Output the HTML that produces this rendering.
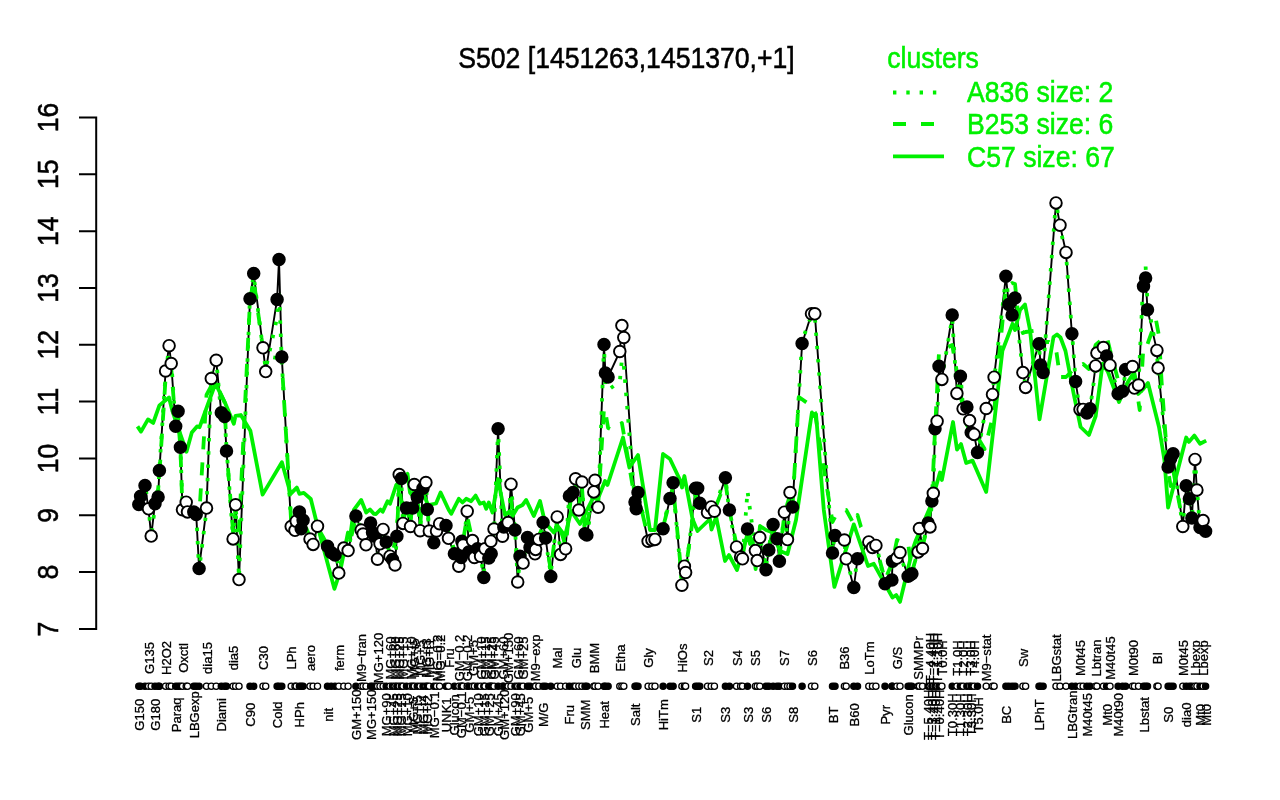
<!DOCTYPE html>
<html lang="en"><head><meta charset="utf-8"><title>S502 [1451263,1451370,+1]</title>
<style>html,body{margin:0;padding:0;background:#fff;}body{width:1280px;height:800px;overflow:hidden;}svg{display:block;font-family:"Liberation Sans",sans-serif;}.big{font-size:26.6px;}.bk{stroke:#000;stroke-width:0.5;}.lab{font-size:13.05px;text-anchor:middle;stroke:#000;stroke-width:0.3;}.g{fill:none;stroke:#00f000;stroke-width:3.8;stroke-linejoin:round;}.k{fill:none;stroke:#000;stroke-width:1.9;stroke-linejoin:round;}.po{fill:#fff;stroke:#000;stroke-width:1.9;}.pf{fill:#000;stroke:#000;stroke-width:1.9;}.ro{fill:#fff;stroke:#000;stroke-width:1.3;}.rf{fill:#000;stroke:#000;stroke-width:1.3;}</style></head><body>
<svg width="1280" height="800" viewBox="0 0 1280 800">
<rect width="1280" height="800" fill="#fff"/>
<text class="big bk" transform="translate(626.5 68.3) scale(1 1.1)" text-anchor="middle">S502 [1451263,1451370,+1]</text>
<g fill="#00f000" stroke="#00f000" stroke-width="0.5" class="big">
<text transform="translate(887.3 67.8) scale(1 1.1)">clusters</text>
<text transform="translate(967 102.4) scale(1 1.1)">A836 size: 2</text>
<text transform="translate(967 134.3) scale(1 1.1)">B253 size: 6</text>
<text transform="translate(967 167) scale(1 1.1)">C57 size: 67</text>
</g>
<path class="g" stroke-dasharray="3.4 9.9" d="M893 92.5H944"/>
<path class="g" stroke-dasharray="13 15" d="M893 124H944"/>
<path class="g" d="M893 156.3H944"/>
<path d="M96.2 117.5V629M80 117.5H96.2M80 174.3H96.2M80 231.2H96.2M80 288H96.2M80 344.8H96.2M80 401.6H96.2M80 458.5H96.2M80 515.3H96.2M80 572.1H96.2M80 629H96.2" fill="none" stroke="#000" stroke-width="2" stroke-linecap="square"/>
<g class="big bk" text-anchor="middle">
<text transform="translate(57.9 117.5) rotate(-90) scale(1 1.1)">16</text>
<text transform="translate(57.9 174.3) rotate(-90) scale(1 1.1)">15</text>
<text transform="translate(57.9 231.2) rotate(-90) scale(1 1.1)">14</text>
<text transform="translate(57.9 288) rotate(-90) scale(1 1.1)">13</text>
<text transform="translate(57.9 344.8) rotate(-90) scale(1 1.1)">12</text>
<text transform="translate(57.9 401.6) rotate(-90) scale(1 1.1)">11</text>
<text transform="translate(57.9 458.5) rotate(-90) scale(1 1.1)">10</text>
<text transform="translate(57.9 515.3) rotate(-90) scale(1 1.1)">9</text>
<text transform="translate(57.9 572.1) rotate(-90) scale(1 1.1)">8</text>
<text transform="translate(57.9 629) rotate(-90) scale(1 1.1)">7</text>
</g>
<path class="k" d="M138.8 504.4L140.6 496.3L145 485.6L148.5 508.8L151.2 536.1L155 503.8L158.1 496.9L159.4 470.6L165.6 371L169.1 345.7L171.2 363.5L175.7 426.3L178.1 411.3L180.4 447.3L182.5 509.8L186.2 502.2L187.5 511.9L193.8 511.9L196.2 514.4L199.1 568.4L206.5 508.1L211.3 378.5L216.2 360.3L221.3 412.8L224.6 416.5L226.5 451L233.1 538.9L235.6 504.8L239 579.6L250 298.8L253.7 273.5L263 347.8L265.7 371.6L277.1 299.4L279 259.6L281.8 357.1L291.2 526.5L295 530.3L296.2 521.2L299.4 512L301.2 528.8L303.1 520.3L310 539L313.1 544.4L317.5 526.2L327.5 546.2L331.2 552.5L335 555L338.8 573.1L343.8 548.1L348.1 550.6L355.9 516L361.2 530L363.1 534L366 544.8L370.6 523.1L372.5 532.5L375 536.2L377.5 559.2L380 543.8L383.1 529.4L386.2 541.9L390 556.2L392.5 559.4L395 565L396.9 536.2L399.2 474.5L401.4 478.4L403 523.4L406.5 508L410.5 526.5L412.6 508L414.3 484.5L417.3 497.2L420.1 530.7L423 488.3L425.9 482.5L427.3 509.5L429.3 531L433.8 542.8L436.5 531L439.6 523.7L446 525.4L448.5 538.3L454.4 553.8L458.8 566.2L461.2 557.5L461.9 541.2L463.1 545L467.2 511.2L468.8 551.9L472.5 540.6L474.4 557.5L477.5 548.8L480.6 556.2L483.8 577.5L485 548.8L488.8 558.1L490.9 541.2L491.2 553.8L494 529L498.1 428.8L502.5 536.2L503.8 526.9L508.1 522.5L511 484.2L515 530L517.7 582L520 556.2L523.1 563.1L527.5 537.5L530 547.5L535 553.8L535.6 549.4L538.8 539.4L543.1 522.5L545.6 538.1L550.8 576.4L557.2 516.9L560.6 554.4L565.6 548.8L569.4 496L573.1 492.5L575.6 478.8L578.8 510L581.9 482L585 533.8L586.9 535L593.8 491.9L595 480.3L598.1 507.2L604 344.6L605.4 373.1L608.1 376.9L619.8 351.5L621.9 325.6L623.8 337.5L635 501.9L636.2 508.8L638 492.5L648.1 541.2L651.9 540L655 539.4L663.1 528.8L670 498.5L673.1 482.8L681.9 585.2L684.4 566.2L685.6 572.5L695.6 488.3L697.7 488.3L699.8 503.2L707.5 512.5L711.2 506.9L714.4 511.2L725.4 477.8L729.4 510L736.5 546.9L740.6 556.9L742.5 558.8L747.5 529L755.4 550.6L757.2 560.6L759.8 537.5L766 569.8L768.8 550L773.1 524.4L777 538.8L779.4 561.2L784.4 512.2L787.5 539.6L790 492.5L792.5 506.9L802.1 343.5L811.5 313.8L814.8 313.8L832.5 553.1L835 535.6L844.4 540L846.2 558.8L853.8 587.5L857.5 558.8L868.8 541.9L872.5 547.5L875.9 545.4L885 583.8L891.9 580L892.5 561.2L896.9 558.1L900 552.5L908.1 576.2L910 575L911.9 573.8L918.1 551.9L919.4 528.5L922.5 548.5L928.1 523.1L930 526.9L931.9 500.9L933.3 493.3L935 428.8L937.1 421.2L939 366.2L941.9 379.4L952.2 315L956.9 393.4L960.4 376.2L963.1 408.8L966.9 406.9L969.6 420.6L971.2 432.5L974.1 434.4L977.5 452.5L986.2 408.5L992.5 394.4L994.1 377.2L1005.9 276.2L1008.8 304.4L1012.1 315L1015 298.1L1022.9 372.6L1025.6 387.4L1039 343.8L1040.6 365L1043.1 372.5L1056 202.9L1060 225.2L1066 252.4L1071.9 333.8L1075.6 381.6L1080 409.4L1083.1 409.4L1086.9 413.1L1090 408.8L1095.6 365.9L1096.9 353.1L1103.4 347.5L1106.6 356L1110 365.2L1118.1 393.8L1122.5 391.2L1125.6 369.4L1132.5 366.5L1134.4 388.1L1138.5 385L1143.5 286.2L1145.6 278.1L1147.5 309.8L1156.9 350.4L1158.1 368.1L1168.1 466.9L1170.6 458.8L1173.1 453.8L1182.8 526.5L1186.2 485.8L1189.4 498.8L1191.9 518L1195 459.4L1196.9 490L1200 527.5L1203.1 520.6L1205.6 531.2"/>
<path class="g" d="M137.5 426.4L141 431.6L148 419.4L153.2 422.9L159.4 405.4L169 397.5L172.5 411.5L186.5 451.8L191.8 432.5L197 426.4L199.6 427.2L215.4 383.5L225 402.8L233.8 423.8L235.5 415.9L240.8 415L250.4 430.8L262.6 494.6L281.9 462.2L290.6 493.8L296.8 487.6L299.4 493.8L303.8 492.9L310.8 499L316 520L334.4 588.8L340 572L348 532.5L350 537.5L353.8 510L361.2 500L366.2 512.5L370 509.4L373.8 513.8L376 514L380.5 509.5L382.7 511.8L387.5 501.2L390 503.8L396.2 485L401 480L407.5 473.8L410 492.5L416 500L422 490L428 505L436 503.5L440.6 492.5L448.8 510L451.2 513.8L458.8 498.8L462.5 502.5L466.2 498.8L471.2 501.2L475.6 495.6L480 503.8L483.8 502.5L486.2 508.8L488.8 502.5L492.5 512.5L498 479L505 515L510 511L512.5 516L517.5 507.5L522.5 505L526.2 500L533.8 516L540 501L545 522.5L553.8 532.5L557.5 526L565 536L571.2 511L580 524L587.5 509L592.5 499L599 496L605 481L607.5 485L623 437.5L629.4 467.5L638 455L650 530L655 530L663 454L670 459L680 480L682 487.5L684.4 476L692.5 519L697.5 531L710 519L711.5 529.5L716.2 517L725 561L729 555L737 570L747.5 534L750 544L752.5 540L755.6 569L760 526L766 530L772.5 532.5L780 551L787.5 554L796 520L811.9 412.5L814 416L816 414L823.8 510L834.4 586.9L853.8 524.4L868 566L873.8 563.8L892.5 597.5L896.2 595L900 601.9L912.5 550L916 540L930 507.5L940 472.5L941.9 480L953 422L957 449.6L961 444L966.2 463L972.5 460.6L986.2 491.9L1002.4 350.7L1007.5 337.5L1012.5 323.8L1015 330L1020 310L1025 304.5L1030 330L1039.5 419.4L1053.5 337L1057 334.5L1060.5 337.5L1065.5 351L1073.7 394L1080.6 427L1088.9 435L1095.7 416L1102.6 363.7L1108 372L1119 402L1127.3 383L1134.2 372L1138.3 394L1142.4 390L1148 383L1159 427L1164.4 460L1168.1 507.5L1186.2 437.5L1188.8 441.9L1194.4 435.6L1200 443.8L1206.2 440.6"/>
<path class="g" stroke-dasharray="13 13" d="M138.8 505L140.6 500L145 492L148.5 498L151.2 497L155 495L158.1 490L159.4 474L165.6 378L169.1 352L171.2 368L175.7 425L178.1 420L180.4 447L182.5 512L186.2 505L187.5 512L193.8 512L196.2 514L199.1 518L206.5 395L211.3 386L216.2 384L221.3 395L224.6 402L226.5 450L233.1 532L235.6 510L239 530L250 301L253.7 280L263 349L265.7 356L277.1 358L279 358L281.8 362L291.2 522L295 528L296.2 521L299.4 514L303.1 521L310 537L317.5 527L327.5 545L335 553L338.8 565L343.8 547L348.1 549L355.9 518L361.2 529L366 540L370.6 524L375 535L380 542L386.2 540L392.5 552L396.9 536L399.2 482L403 520L406.5 508L410.5 522L414.3 488L417.3 497L420.1 527L423 490L427.3 508L429.3 528L433.8 540L439.6 524L446 526L454.4 550L461.2 552L467.2 516L472.5 541L480.6 552L483.8 565L490.9 542L494 530L498.1 520L503.8 527L511 500L515 530L517.7 570L523.1 558L527.5 538L535 550L543.1 524L550.8 570L557.2 519L565.6 546L571 497L575.6 482L578.8 508L581.9 486L585 532L593.8 492L598.1 506L604 408L605.4 412L608.1 428L612.5 430L619.8 425L621.9 423L623.8 434L635 500L638 494L648.1 538L655 537L663.1 527L670 500L673.1 486L681.9 580L685.6 570L696.9 490L700 503L707.5 512L714.4 510L725.4 482L729.4 510L736.5 545L742.5 556L747.5 530L755.4 549L759.8 538L766 566L773.1 527L779.4 558L784.4 514L790 495L792.5 506L798.8 397L811.5 406L814.8 412L832.5 522L835 517L844.4 510L846.2 510L853.8 524L857.5 515L861 527L868.8 541L875.9 546L885 580L892.5 562L896.9 540L900 541L908.1 543L911.9 572L918.1 551L922.5 547L928.1 523L931.9 500L935 430L937.1 390L939 352L941.9 350L952.2 345L956.9 372L960.4 395L966.9 425L971.2 432L977.5 437L984.6 449L994.1 412L999.7 350L1005.9 287L1012.1 283L1015 284L1019 323L1022.9 333L1025.6 332L1039 330L1041 342L1049 342L1056 349L1060 377L1066 377L1071.9 371L1075.6 368L1083.1 364L1088.9 369L1095.6 345L1103.4 338L1106.6 336L1110 350L1118.1 380L1125.6 372L1132.5 362L1139.7 410L1143.5 345L1147.5 344L1156 320L1159 336L1161.7 383L1168.1 470L1170.6 486L1173.1 470L1182.8 522"/>
<path class="g" stroke-dasharray="3.4 9.9" d="M138.8 504.4L140.6 499.3L145 484.8L148.5 506L151.2 537.6L155 506.1L158.1 494.8L159.4 468.7L165.6 373.6L169.1 346.9L171.2 360.6L175.7 425.9L178.1 414.3L180.4 447L182.5 506.8L186.2 503.3L187.5 514.5L193.8 510.1L196.2 512.2L199.1 570.7L206.5 509.7L211.3 375.8L216.2 359.4L221.3 415.8L224.6 416.6L226.5 448L233.1 539.5L235.6 507.6L239 578.2L250 296.3L253.7 275.5L263 349.7L265.7 369.1L277.1 317.4L279 289.6L281.8 362.1L291.2 523.5L295 530.5L296.2 524.2L299.4 511L301.2 526.1L303.1 522L310 541.3L313.1 542.2L317.5 524.6L327.5 548.9L331.2 553.5L335 552.1L338.8 572.9L343.8 551.1L348.1 550.1L355.9 513.1L361.2 531.3L363.1 536.5L366 542.8L370.6 521.1L372.5 534.9L375 537.7L377.5 556.4L380 543.1L383.1 532.4L386.2 541.8L390 553.3L392.5 560.2L395 567.7L396.9 534.7L399.2 472.2L401.4 480.6L403 525.2L406.5 505.4L410.5 525.4L412.6 510.9L414.3 484.9L417.3 494.2L420.1 531.1L423 491.2L425.9 481.3L427.3 506.9L429.3 532.8L433.8 544.9L436.5 528.6L439.6 522.2L446 528.2L448.5 539.1L454.4 550.8L458.8 566.2L461.2 560.5L461.9 540.5L463.1 542.2L467.2 512.7L468.8 554.3L472.5 538.5L474.4 555.6L477.5 551.3L480.6 557.5L483.8 574.6L485 548.3L488.8 561.1L490.9 541L491.2 550.8L494 530L498.1 428.8L502.5 534.5L503.8 524.7L508.1 524.8L511 485.8L515 527.3L517.7 581.1L520 559.2L523.1 563.3L527.5 534.5L530 548.1L535 556.6L535.6 548.1L538.8 536.9L543.1 524.5L545.6 540.1L550.8 573.9L557.2 515.6L560.6 557.2L565.6 549.4L569.4 493L573.1 492.7L575.6 481.7L578.8 509.1L581.9 479.3L585 535.4L586.9 537.3L593.8 489.7L595 478.6L598.1 509.9L604 344.6L605.4 385.1L608.1 389.9L619.8 381.5L621.9 359.6L623.8 365.5L635 503.1L636.2 511.3L638 490.6L648.1 539.2L651.9 542.4L655 540.8L663.1 526L670 497.8L673.1 485.8L681.9 585.2L684.4 563.3L685.6 573.3L695.6 491.1L697.7 486.8L699.8 500.8L707.5 514.6L711.2 508.7L714.4 508.7L725.4 476.6L729.4 512.9L736.5 547.3L740.6 553.9L742.5 559.1L747.5 491L755.4 549.5L757.2 558L759.8 539.3L766 571.9L768.8 547.7L773.1 522.8L777 541.5L779.4 562.1L784.4 509.3L787.5 539.5L790 495.5L792.5 506.2L802.1 340.7L811.5 315.2L814.8 316.2L832.5 551.1L835 533.7L844.4 542.5L846.2 560L853.8 584.6L857.5 558.2L868.8 544.9L872.5 547.3L875.9 542.5L885 584.8L891.9 582.7L892.5 559.6L896.9 555.9L900 554.8L908.1 577.9L910 572.3L911.9 572.8L918.1 554.8L919.4 528.7L922.5 545.5L928.1 523.7L930 529.7L931.9 499.6L933.3 490.8L935 430.7L937.1 423.3L939 363.8L941.9 378L952.2 317.8L956.9 394L960.4 373.3L963.1 408.9L966.9 409.9L969.6 419.7L971.2 429.8L974.1 436L977.5 454.8L986.2 406.3L992.5 392.6L994.1 379.9L1005.9 277.3L1008.8 301.5L1012.1 314.7L1015 301.1L1022.9 372.2L1025.6 384.5L1039 344.9L1040.6 367.6L1043.1 370.6L1056 200.8L1060 227.6L1066 253.9L1071.9 331L1075.6 380.8L1080 412.4L1083.1 409.4L1086.9 410.1L1090 409.5L1095.6 368.7L1096.9 351.6L1103.4 345.1L1106.6 358.1L1110 367.1L1118.1 391.2L1122.5 390.1L1125.6 372.3L1132.5 366.9L1134.4 385.1L1138.5 385.3L1143.5 274.2L1145.6 266.1L1147.5 301.8L1156.9 352.2L1158.1 370.3L1168.1 464.6L1170.6 457.2L1173.1 456.5L1182.8 527.4L1186.2 482.8L1189.4 498.6L1191.9 521L1195 458.7L1196.9 487.2L1200 528.9L1203.1 523.1L1205.6 529.2"/>
<circle class="pf" cx="138.8" cy="504.4" r="5.8"/>
<circle class="pf" cx="140.6" cy="496.3" r="5.8"/>
<circle class="pf" cx="145" cy="485.6" r="5.8"/>
<circle class="po" cx="148.5" cy="508.8" r="5.8"/>
<circle class="po" cx="151.2" cy="536.1" r="5.8"/>
<circle class="pf" cx="155" cy="503.8" r="5.8"/>
<circle class="pf" cx="158.1" cy="496.9" r="5.8"/>
<circle class="pf" cx="159.4" cy="470.6" r="5.8"/>
<circle class="po" cx="165.6" cy="371" r="5.8"/>
<circle class="po" cx="169.1" cy="345.7" r="5.8"/>
<circle class="po" cx="171.2" cy="363.5" r="5.8"/>
<circle class="pf" cx="175.7" cy="426.3" r="5.8"/>
<circle class="pf" cx="178.1" cy="411.3" r="5.8"/>
<circle class="pf" cx="180.4" cy="447.3" r="5.8"/>
<circle class="po" cx="182.5" cy="509.8" r="5.8"/>
<circle class="po" cx="186.2" cy="502.2" r="5.8"/>
<circle class="po" cx="187.5" cy="511.9" r="5.8"/>
<circle class="pf" cx="193.8" cy="511.9" r="5.8"/>
<circle class="pf" cx="196.2" cy="514.4" r="5.8"/>
<circle class="pf" cx="199.1" cy="568.4" r="5.8"/>
<circle class="po" cx="206.5" cy="508.1" r="5.8"/>
<circle class="po" cx="211.3" cy="378.5" r="5.8"/>
<circle class="po" cx="216.2" cy="360.3" r="5.8"/>
<circle class="pf" cx="221.3" cy="412.8" r="5.8"/>
<circle class="pf" cx="224.6" cy="416.5" r="5.8"/>
<circle class="pf" cx="226.5" cy="451" r="5.8"/>
<circle class="po" cx="233.1" cy="538.9" r="5.8"/>
<circle class="po" cx="235.6" cy="504.8" r="5.8"/>
<circle class="po" cx="239" cy="579.6" r="5.8"/>
<circle class="pf" cx="250" cy="298.8" r="5.8"/>
<circle class="pf" cx="253.7" cy="273.5" r="5.8"/>
<circle class="po" cx="263" cy="347.8" r="5.8"/>
<circle class="po" cx="265.7" cy="371.6" r="5.8"/>
<circle class="pf" cx="277.1" cy="299.4" r="5.8"/>
<circle class="pf" cx="279" cy="259.6" r="5.8"/>
<circle class="pf" cx="281.8" cy="357.1" r="5.8"/>
<circle class="po" cx="291.2" cy="526.5" r="5.8"/>
<circle class="po" cx="295" cy="530.3" r="5.8"/>
<circle class="po" cx="296.2" cy="521.2" r="5.8"/>
<circle class="pf" cx="299.4" cy="512" r="5.8"/>
<circle class="pf" cx="301.2" cy="528.8" r="5.8"/>
<circle class="pf" cx="303.1" cy="520.3" r="5.8"/>
<circle class="po" cx="310" cy="539" r="5.8"/>
<circle class="po" cx="313.1" cy="544.4" r="5.8"/>
<circle class="po" cx="317.5" cy="526.2" r="5.8"/>
<circle class="pf" cx="327.5" cy="546.2" r="5.8"/>
<circle class="pf" cx="331.2" cy="552.5" r="5.8"/>
<circle class="pf" cx="335" cy="555" r="5.8"/>
<circle class="po" cx="338.8" cy="573.1" r="5.8"/>
<circle class="po" cx="343.8" cy="548.1" r="5.8"/>
<circle class="po" cx="348.1" cy="550.6" r="5.8"/>
<circle class="pf" cx="355.9" cy="516" r="5.8"/>
<circle class="po" cx="361.2" cy="530" r="5.8"/>
<circle class="po" cx="363.1" cy="534" r="5.8"/>
<circle class="po" cx="366" cy="544.8" r="5.8"/>
<circle class="pf" cx="370.6" cy="523.1" r="5.8"/>
<circle class="pf" cx="372.5" cy="532.5" r="5.8"/>
<circle class="pf" cx="375" cy="536.2" r="5.8"/>
<circle class="po" cx="377.5" cy="559.2" r="5.8"/>
<circle class="po" cx="380" cy="543.8" r="5.8"/>
<circle class="po" cx="383.1" cy="529.4" r="5.8"/>
<circle class="pf" cx="386.2" cy="541.9" r="5.8"/>
<circle class="po" cx="390" cy="556.2" r="5.8"/>
<circle class="pf" cx="392.5" cy="559.4" r="5.8"/>
<circle class="po" cx="395" cy="565" r="5.8"/>
<circle class="pf" cx="396.9" cy="536.2" r="5.8"/>
<circle class="po" cx="399.2" cy="474.5" r="5.8"/>
<circle class="pf" cx="401.4" cy="478.4" r="5.8"/>
<circle class="po" cx="403" cy="523.4" r="5.8"/>
<circle class="pf" cx="406.5" cy="508" r="5.8"/>
<circle class="po" cx="410.5" cy="526.5" r="5.8"/>
<circle class="pf" cx="412.6" cy="508" r="5.8"/>
<circle class="po" cx="414.3" cy="484.5" r="5.8"/>
<circle class="pf" cx="417.3" cy="497.2" r="5.8"/>
<circle class="po" cx="420.1" cy="530.7" r="5.8"/>
<circle class="pf" cx="423" cy="488.3" r="5.8"/>
<circle class="po" cx="425.9" cy="482.5" r="5.8"/>
<circle class="pf" cx="427.3" cy="509.5" r="5.8"/>
<circle class="po" cx="429.3" cy="531" r="5.8"/>
<circle class="pf" cx="433.8" cy="542.8" r="5.8"/>
<circle class="po" cx="436.5" cy="531" r="5.8"/>
<circle class="po" cx="439.6" cy="523.7" r="5.8"/>
<circle class="pf" cx="446" cy="525.4" r="5.8"/>
<circle class="po" cx="448.5" cy="538.3" r="5.8"/>
<circle class="pf" cx="454.4" cy="553.8" r="5.8"/>
<circle class="po" cx="458.8" cy="566.2" r="5.8"/>
<circle class="pf" cx="461.2" cy="557.5" r="5.8"/>
<circle class="pf" cx="461.9" cy="541.2" r="5.8"/>
<circle class="po" cx="463.1" cy="545" r="5.8"/>
<circle class="po" cx="467.2" cy="511.2" r="5.8"/>
<circle class="pf" cx="468.8" cy="551.9" r="5.8"/>
<circle class="po" cx="472.5" cy="540.6" r="5.8"/>
<circle class="po" cx="474.4" cy="557.5" r="5.8"/>
<circle class="pf" cx="477.5" cy="548.8" r="5.8"/>
<circle class="po" cx="480.6" cy="556.2" r="5.8"/>
<circle class="pf" cx="483.8" cy="577.5" r="5.8"/>
<circle class="po" cx="485" cy="548.8" r="5.8"/>
<circle class="pf" cx="488.8" cy="558.1" r="5.8"/>
<circle class="po" cx="490.9" cy="541.2" r="5.8"/>
<circle class="pf" cx="491.2" cy="553.8" r="5.8"/>
<circle class="po" cx="494" cy="529" r="5.8"/>
<circle class="pf" cx="498.1" cy="428.8" r="5.8"/>
<circle class="po" cx="502.5" cy="536.2" r="5.8"/>
<circle class="pf" cx="503.8" cy="526.9" r="5.8"/>
<circle class="po" cx="508.1" cy="522.5" r="5.8"/>
<circle class="po" cx="511" cy="484.2" r="5.8"/>
<circle class="pf" cx="515" cy="530" r="5.8"/>
<circle class="po" cx="517.7" cy="582" r="5.8"/>
<circle class="pf" cx="520" cy="556.2" r="5.8"/>
<circle class="po" cx="523.1" cy="563.1" r="5.8"/>
<circle class="pf" cx="527.5" cy="537.5" r="5.8"/>
<circle class="pf" cx="530" cy="547.5" r="5.8"/>
<circle class="po" cx="535" cy="553.8" r="5.8"/>
<circle class="po" cx="535.6" cy="549.4" r="5.8"/>
<circle class="po" cx="538.8" cy="539.4" r="5.8"/>
<circle class="pf" cx="543.1" cy="522.5" r="5.8"/>
<circle class="pf" cx="545.6" cy="538.1" r="5.8"/>
<circle class="pf" cx="550.8" cy="576.4" r="5.8"/>
<circle class="po" cx="557.2" cy="516.9" r="5.8"/>
<circle class="po" cx="560.6" cy="554.4" r="5.8"/>
<circle class="po" cx="565.6" cy="548.8" r="5.8"/>
<circle class="pf" cx="569.4" cy="496" r="5.8"/>
<circle class="pf" cx="573.1" cy="492.5" r="5.8"/>
<circle class="po" cx="575.6" cy="478.8" r="5.8"/>
<circle class="po" cx="578.8" cy="510" r="5.8"/>
<circle class="po" cx="581.9" cy="482" r="5.8"/>
<circle class="pf" cx="585" cy="533.8" r="5.8"/>
<circle class="pf" cx="586.9" cy="535" r="5.8"/>
<circle class="po" cx="593.8" cy="491.9" r="5.8"/>
<circle class="po" cx="595" cy="480.3" r="5.8"/>
<circle class="po" cx="598.1" cy="507.2" r="5.8"/>
<circle class="pf" cx="604" cy="344.6" r="5.8"/>
<circle class="pf" cx="605.4" cy="373.1" r="5.8"/>
<circle class="pf" cx="608.1" cy="376.9" r="5.8"/>
<circle class="po" cx="619.8" cy="351.5" r="5.8"/>
<circle class="po" cx="621.9" cy="325.6" r="5.8"/>
<circle class="po" cx="623.8" cy="337.5" r="5.8"/>
<circle class="pf" cx="635" cy="501.9" r="5.8"/>
<circle class="pf" cx="636.2" cy="508.8" r="5.8"/>
<circle class="pf" cx="638" cy="492.5" r="5.8"/>
<circle class="po" cx="648.1" cy="541.2" r="5.8"/>
<circle class="po" cx="651.9" cy="540" r="5.8"/>
<circle class="po" cx="655" cy="539.4" r="5.8"/>
<circle class="pf" cx="663.1" cy="528.8" r="5.8"/>
<circle class="pf" cx="670" cy="498.5" r="5.8"/>
<circle class="pf" cx="673.1" cy="482.8" r="5.8"/>
<circle class="po" cx="681.9" cy="585.2" r="5.8"/>
<circle class="po" cx="684.4" cy="566.2" r="5.8"/>
<circle class="po" cx="685.6" cy="572.5" r="5.8"/>
<circle class="pf" cx="695.6" cy="488.3" r="5.8"/>
<circle class="pf" cx="697.7" cy="488.3" r="5.8"/>
<circle class="pf" cx="699.8" cy="503.2" r="5.8"/>
<circle class="po" cx="707.5" cy="512.5" r="5.8"/>
<circle class="po" cx="711.2" cy="506.9" r="5.8"/>
<circle class="po" cx="714.4" cy="511.2" r="5.8"/>
<circle class="pf" cx="725.4" cy="477.8" r="5.8"/>
<circle class="pf" cx="729.4" cy="510" r="5.8"/>
<circle class="po" cx="736.5" cy="546.9" r="5.8"/>
<circle class="po" cx="740.6" cy="556.9" r="5.8"/>
<circle class="po" cx="742.5" cy="558.8" r="5.8"/>
<circle class="pf" cx="747.5" cy="529" r="5.8"/>
<circle class="po" cx="755.4" cy="550.6" r="5.8"/>
<circle class="po" cx="757.2" cy="560.6" r="5.8"/>
<circle class="po" cx="759.8" cy="537.5" r="5.8"/>
<circle class="pf" cx="766" cy="569.8" r="5.8"/>
<circle class="pf" cx="768.8" cy="550" r="5.8"/>
<circle class="pf" cx="773.1" cy="524.4" r="5.8"/>
<circle class="pf" cx="777" cy="538.8" r="5.8"/>
<circle class="pf" cx="779.4" cy="561.2" r="5.8"/>
<circle class="po" cx="784.4" cy="512.2" r="5.8"/>
<circle class="po" cx="787.5" cy="539.6" r="5.8"/>
<circle class="po" cx="790" cy="492.5" r="5.8"/>
<circle class="pf" cx="792.5" cy="506.9" r="5.8"/>
<circle class="pf" cx="802.1" cy="343.5" r="5.8"/>
<circle class="po" cx="811.5" cy="313.8" r="5.8"/>
<circle class="po" cx="814.8" cy="313.8" r="5.8"/>
<circle class="pf" cx="832.5" cy="553.1" r="5.8"/>
<circle class="pf" cx="835" cy="535.6" r="5.8"/>
<circle class="po" cx="844.4" cy="540" r="5.8"/>
<circle class="po" cx="846.2" cy="558.8" r="5.8"/>
<circle class="pf" cx="853.8" cy="587.5" r="5.8"/>
<circle class="pf" cx="857.5" cy="558.8" r="5.8"/>
<circle class="po" cx="868.8" cy="541.9" r="5.8"/>
<circle class="po" cx="872.5" cy="547.5" r="5.8"/>
<circle class="po" cx="875.9" cy="545.4" r="5.8"/>
<circle class="pf" cx="885" cy="583.8" r="5.8"/>
<circle class="pf" cx="891.9" cy="580" r="5.8"/>
<circle class="pf" cx="892.5" cy="561.2" r="5.8"/>
<circle class="po" cx="896.9" cy="558.1" r="5.8"/>
<circle class="po" cx="900" cy="552.5" r="5.8"/>
<circle class="pf" cx="908.1" cy="576.2" r="5.8"/>
<circle class="pf" cx="910" cy="575" r="5.8"/>
<circle class="pf" cx="911.9" cy="573.8" r="5.8"/>
<circle class="po" cx="918.1" cy="551.9" r="5.8"/>
<circle class="po" cx="919.4" cy="528.5" r="5.8"/>
<circle class="po" cx="922.5" cy="548.5" r="5.8"/>
<circle class="pf" cx="928.1" cy="523.1" r="5.8"/>
<circle class="po" cx="930" cy="526.9" r="5.8"/>
<circle class="pf" cx="931.9" cy="500.9" r="5.8"/>
<circle class="po" cx="933.3" cy="493.3" r="5.8"/>
<circle class="pf" cx="935" cy="428.8" r="5.8"/>
<circle class="po" cx="937.1" cy="421.2" r="5.8"/>
<circle class="pf" cx="939" cy="366.2" r="5.8"/>
<circle class="po" cx="941.9" cy="379.4" r="5.8"/>
<circle class="pf" cx="952.2" cy="315" r="5.8"/>
<circle class="po" cx="956.9" cy="393.4" r="5.8"/>
<circle class="pf" cx="960.4" cy="376.2" r="5.8"/>
<circle class="po" cx="963.1" cy="408.8" r="5.8"/>
<circle class="pf" cx="966.9" cy="406.9" r="5.8"/>
<circle class="po" cx="969.6" cy="420.6" r="5.8"/>
<circle class="pf" cx="971.2" cy="432.5" r="5.8"/>
<circle class="po" cx="974.1" cy="434.4" r="5.8"/>
<circle class="pf" cx="977.5" cy="452.5" r="5.8"/>
<circle class="po" cx="986.2" cy="408.5" r="5.8"/>
<circle class="po" cx="992.5" cy="394.4" r="5.8"/>
<circle class="po" cx="994.1" cy="377.2" r="5.8"/>
<circle class="pf" cx="1005.9" cy="276.2" r="5.8"/>
<circle class="pf" cx="1008.8" cy="304.4" r="5.8"/>
<circle class="pf" cx="1012.1" cy="315" r="5.8"/>
<circle class="pf" cx="1015" cy="298.1" r="5.8"/>
<circle class="po" cx="1022.9" cy="372.6" r="5.8"/>
<circle class="po" cx="1025.6" cy="387.4" r="5.8"/>
<circle class="pf" cx="1039" cy="343.8" r="5.8"/>
<circle class="pf" cx="1040.6" cy="365" r="5.8"/>
<circle class="pf" cx="1043.1" cy="372.5" r="5.8"/>
<circle class="po" cx="1056" cy="202.9" r="5.8"/>
<circle class="po" cx="1060" cy="225.2" r="5.8"/>
<circle class="po" cx="1066" cy="252.4" r="5.8"/>
<circle class="pf" cx="1071.9" cy="333.8" r="5.8"/>
<circle class="pf" cx="1075.6" cy="381.6" r="5.8"/>
<circle class="po" cx="1080" cy="409.4" r="5.8"/>
<circle class="po" cx="1083.1" cy="409.4" r="5.8"/>
<circle class="pf" cx="1086.9" cy="413.1" r="5.8"/>
<circle class="pf" cx="1090" cy="408.8" r="5.8"/>
<circle class="po" cx="1095.6" cy="365.9" r="5.8"/>
<circle class="po" cx="1096.9" cy="353.1" r="5.8"/>
<circle class="po" cx="1103.4" cy="347.5" r="5.8"/>
<circle class="pf" cx="1106.6" cy="356" r="5.8"/>
<circle class="po" cx="1110" cy="365.2" r="5.8"/>
<circle class="pf" cx="1118.1" cy="393.8" r="5.8"/>
<circle class="pf" cx="1122.5" cy="391.2" r="5.8"/>
<circle class="pf" cx="1125.6" cy="369.4" r="5.8"/>
<circle class="po" cx="1132.5" cy="366.5" r="5.8"/>
<circle class="po" cx="1134.4" cy="388.1" r="5.8"/>
<circle class="po" cx="1138.5" cy="385" r="5.8"/>
<circle class="pf" cx="1143.5" cy="286.2" r="5.8"/>
<circle class="pf" cx="1145.6" cy="278.1" r="5.8"/>
<circle class="pf" cx="1147.5" cy="309.8" r="5.8"/>
<circle class="po" cx="1156.9" cy="350.4" r="5.8"/>
<circle class="po" cx="1158.1" cy="368.1" r="5.8"/>
<circle class="pf" cx="1168.1" cy="466.9" r="5.8"/>
<circle class="pf" cx="1170.6" cy="458.8" r="5.8"/>
<circle class="pf" cx="1173.1" cy="453.8" r="5.8"/>
<circle class="po" cx="1182.8" cy="526.5" r="5.8"/>
<circle class="pf" cx="1186.2" cy="485.8" r="5.8"/>
<circle class="pf" cx="1189.4" cy="498.8" r="5.8"/>
<circle class="pf" cx="1191.9" cy="518" r="5.8"/>
<circle class="po" cx="1195" cy="459.4" r="5.8"/>
<circle class="po" cx="1196.9" cy="490" r="5.8"/>
<circle class="pf" cx="1200" cy="527.5" r="5.8"/>
<circle class="po" cx="1203.1" cy="520.6" r="5.8"/>
<circle class="pf" cx="1205.6" cy="531.2" r="5.8"/>
<circle class="rf" cx="138.8" cy="686.2" r="3.1"/>
<circle class="rf" cx="140.6" cy="686.2" r="3.1"/>
<circle class="rf" cx="145" cy="686.2" r="3.1"/>
<circle class="ro" cx="148.5" cy="686.2" r="3.1"/>
<circle class="ro" cx="151.2" cy="686.2" r="3.1"/>
<circle class="rf" cx="155" cy="686.2" r="3.1"/>
<circle class="rf" cx="158.1" cy="686.2" r="3.1"/>
<circle class="rf" cx="159.4" cy="686.2" r="3.1"/>
<circle class="ro" cx="165.6" cy="686.2" r="3.1"/>
<circle class="ro" cx="169.1" cy="686.2" r="3.1"/>
<circle class="ro" cx="171.2" cy="686.2" r="3.1"/>
<circle class="rf" cx="175.7" cy="686.2" r="3.1"/>
<circle class="rf" cx="178.1" cy="686.2" r="3.1"/>
<circle class="rf" cx="180.4" cy="686.2" r="3.1"/>
<circle class="ro" cx="182.5" cy="686.2" r="3.1"/>
<circle class="ro" cx="186.2" cy="686.2" r="3.1"/>
<circle class="ro" cx="187.5" cy="686.2" r="3.1"/>
<circle class="rf" cx="193.8" cy="686.2" r="3.1"/>
<circle class="rf" cx="196.2" cy="686.2" r="3.1"/>
<circle class="rf" cx="199.1" cy="686.2" r="3.1"/>
<circle class="ro" cx="206.5" cy="686.2" r="3.1"/>
<circle class="ro" cx="211.3" cy="686.2" r="3.1"/>
<circle class="ro" cx="216.2" cy="686.2" r="3.1"/>
<circle class="rf" cx="221.3" cy="686.2" r="3.1"/>
<circle class="rf" cx="224.6" cy="686.2" r="3.1"/>
<circle class="rf" cx="226.5" cy="686.2" r="3.1"/>
<circle class="ro" cx="233.1" cy="686.2" r="3.1"/>
<circle class="ro" cx="235.6" cy="686.2" r="3.1"/>
<circle class="ro" cx="239" cy="686.2" r="3.1"/>
<circle class="rf" cx="250" cy="686.2" r="3.1"/>
<circle class="rf" cx="253.7" cy="686.2" r="3.1"/>
<circle class="ro" cx="263" cy="686.2" r="3.1"/>
<circle class="ro" cx="265.7" cy="686.2" r="3.1"/>
<circle class="rf" cx="277.1" cy="686.2" r="3.1"/>
<circle class="rf" cx="279" cy="686.2" r="3.1"/>
<circle class="rf" cx="281.8" cy="686.2" r="3.1"/>
<circle class="ro" cx="291.2" cy="686.2" r="3.1"/>
<circle class="ro" cx="295" cy="686.2" r="3.1"/>
<circle class="ro" cx="296.2" cy="686.2" r="3.1"/>
<circle class="rf" cx="299.4" cy="686.2" r="3.1"/>
<circle class="rf" cx="301.2" cy="686.2" r="3.1"/>
<circle class="rf" cx="303.1" cy="686.2" r="3.1"/>
<circle class="ro" cx="310" cy="686.2" r="3.1"/>
<circle class="ro" cx="313.1" cy="686.2" r="3.1"/>
<circle class="ro" cx="317.5" cy="686.2" r="3.1"/>
<circle class="rf" cx="327.5" cy="686.2" r="3.1"/>
<circle class="rf" cx="331.2" cy="686.2" r="3.1"/>
<circle class="rf" cx="335" cy="686.2" r="3.1"/>
<circle class="ro" cx="338.8" cy="686.2" r="3.1"/>
<circle class="ro" cx="343.8" cy="686.2" r="3.1"/>
<circle class="ro" cx="348.1" cy="686.2" r="3.1"/>
<circle class="rf" cx="355.9" cy="686.2" r="3.1"/>
<circle class="ro" cx="361.2" cy="686.2" r="3.1"/>
<circle class="ro" cx="363.1" cy="686.2" r="3.1"/>
<circle class="ro" cx="366" cy="686.2" r="3.1"/>
<circle class="rf" cx="370.6" cy="686.2" r="3.1"/>
<circle class="rf" cx="372.5" cy="686.2" r="3.1"/>
<circle class="rf" cx="375" cy="686.2" r="3.1"/>
<circle class="ro" cx="377.5" cy="686.2" r="3.1"/>
<circle class="ro" cx="380" cy="686.2" r="3.1"/>
<circle class="ro" cx="383.1" cy="686.2" r="3.1"/>
<circle class="rf" cx="386.2" cy="686.2" r="3.1"/>
<circle class="ro" cx="390" cy="686.2" r="3.1"/>
<circle class="rf" cx="392.5" cy="686.2" r="3.1"/>
<circle class="ro" cx="395" cy="686.2" r="3.1"/>
<circle class="rf" cx="396.9" cy="686.2" r="3.1"/>
<circle class="ro" cx="399.2" cy="686.2" r="3.1"/>
<circle class="rf" cx="401.4" cy="686.2" r="3.1"/>
<circle class="ro" cx="403" cy="686.2" r="3.1"/>
<circle class="rf" cx="406.5" cy="686.2" r="3.1"/>
<circle class="ro" cx="410.5" cy="686.2" r="3.1"/>
<circle class="rf" cx="412.6" cy="686.2" r="3.1"/>
<circle class="ro" cx="414.3" cy="686.2" r="3.1"/>
<circle class="rf" cx="417.3" cy="686.2" r="3.1"/>
<circle class="ro" cx="420.1" cy="686.2" r="3.1"/>
<circle class="rf" cx="423" cy="686.2" r="3.1"/>
<circle class="ro" cx="425.9" cy="686.2" r="3.1"/>
<circle class="rf" cx="427.3" cy="686.2" r="3.1"/>
<circle class="ro" cx="429.3" cy="686.2" r="3.1"/>
<circle class="rf" cx="433.8" cy="686.2" r="3.1"/>
<circle class="ro" cx="436.5" cy="686.2" r="3.1"/>
<circle class="ro" cx="439.6" cy="686.2" r="3.1"/>
<circle class="rf" cx="446" cy="686.2" r="3.1"/>
<circle class="ro" cx="448.5" cy="686.2" r="3.1"/>
<circle class="rf" cx="454.4" cy="686.2" r="3.1"/>
<circle class="ro" cx="458.8" cy="686.2" r="3.1"/>
<circle class="rf" cx="461.2" cy="686.2" r="3.1"/>
<circle class="rf" cx="461.9" cy="686.2" r="3.1"/>
<circle class="ro" cx="463.1" cy="686.2" r="3.1"/>
<circle class="ro" cx="467.2" cy="686.2" r="3.1"/>
<circle class="rf" cx="468.8" cy="686.2" r="3.1"/>
<circle class="ro" cx="472.5" cy="686.2" r="3.1"/>
<circle class="ro" cx="474.4" cy="686.2" r="3.1"/>
<circle class="rf" cx="477.5" cy="686.2" r="3.1"/>
<circle class="ro" cx="480.6" cy="686.2" r="3.1"/>
<circle class="rf" cx="483.8" cy="686.2" r="3.1"/>
<circle class="ro" cx="485" cy="686.2" r="3.1"/>
<circle class="rf" cx="488.8" cy="686.2" r="3.1"/>
<circle class="ro" cx="490.9" cy="686.2" r="3.1"/>
<circle class="rf" cx="491.2" cy="686.2" r="3.1"/>
<circle class="ro" cx="494" cy="686.2" r="3.1"/>
<circle class="rf" cx="498.1" cy="686.2" r="3.1"/>
<circle class="ro" cx="502.5" cy="686.2" r="3.1"/>
<circle class="rf" cx="503.8" cy="686.2" r="3.1"/>
<circle class="ro" cx="508.1" cy="686.2" r="3.1"/>
<circle class="ro" cx="511" cy="686.2" r="3.1"/>
<circle class="rf" cx="515" cy="686.2" r="3.1"/>
<circle class="ro" cx="517.7" cy="686.2" r="3.1"/>
<circle class="rf" cx="520" cy="686.2" r="3.1"/>
<circle class="ro" cx="523.1" cy="686.2" r="3.1"/>
<circle class="rf" cx="527.5" cy="686.2" r="3.1"/>
<circle class="rf" cx="530" cy="686.2" r="3.1"/>
<circle class="ro" cx="535" cy="686.2" r="3.1"/>
<circle class="ro" cx="535.6" cy="686.2" r="3.1"/>
<circle class="ro" cx="538.8" cy="686.2" r="3.1"/>
<circle class="rf" cx="543.1" cy="686.2" r="3.1"/>
<circle class="rf" cx="545.6" cy="686.2" r="3.1"/>
<circle class="rf" cx="550.8" cy="686.2" r="3.1"/>
<circle class="ro" cx="557.2" cy="686.2" r="3.1"/>
<circle class="ro" cx="560.6" cy="686.2" r="3.1"/>
<circle class="ro" cx="565.6" cy="686.2" r="3.1"/>
<circle class="rf" cx="569.4" cy="686.2" r="3.1"/>
<circle class="rf" cx="573.1" cy="686.2" r="3.1"/>
<circle class="ro" cx="575.6" cy="686.2" r="3.1"/>
<circle class="ro" cx="578.8" cy="686.2" r="3.1"/>
<circle class="ro" cx="581.9" cy="686.2" r="3.1"/>
<circle class="rf" cx="585" cy="686.2" r="3.1"/>
<circle class="rf" cx="586.9" cy="686.2" r="3.1"/>
<circle class="ro" cx="593.8" cy="686.2" r="3.1"/>
<circle class="ro" cx="595" cy="686.2" r="3.1"/>
<circle class="ro" cx="598.1" cy="686.2" r="3.1"/>
<circle class="rf" cx="604" cy="686.2" r="3.1"/>
<circle class="rf" cx="605.4" cy="686.2" r="3.1"/>
<circle class="rf" cx="608.1" cy="686.2" r="3.1"/>
<circle class="ro" cx="619.8" cy="686.2" r="3.1"/>
<circle class="ro" cx="621.9" cy="686.2" r="3.1"/>
<circle class="ro" cx="623.8" cy="686.2" r="3.1"/>
<circle class="rf" cx="635" cy="686.2" r="3.1"/>
<circle class="rf" cx="636.2" cy="686.2" r="3.1"/>
<circle class="rf" cx="638" cy="686.2" r="3.1"/>
<circle class="ro" cx="648.1" cy="686.2" r="3.1"/>
<circle class="ro" cx="651.9" cy="686.2" r="3.1"/>
<circle class="ro" cx="655" cy="686.2" r="3.1"/>
<circle class="rf" cx="663.1" cy="686.2" r="3.1"/>
<circle class="rf" cx="670" cy="686.2" r="3.1"/>
<circle class="rf" cx="673.1" cy="686.2" r="3.1"/>
<circle class="ro" cx="681.9" cy="686.2" r="3.1"/>
<circle class="ro" cx="684.4" cy="686.2" r="3.1"/>
<circle class="ro" cx="685.6" cy="686.2" r="3.1"/>
<circle class="rf" cx="695.6" cy="686.2" r="3.1"/>
<circle class="rf" cx="697.7" cy="686.2" r="3.1"/>
<circle class="rf" cx="699.8" cy="686.2" r="3.1"/>
<circle class="ro" cx="707.5" cy="686.2" r="3.1"/>
<circle class="ro" cx="711.2" cy="686.2" r="3.1"/>
<circle class="ro" cx="714.4" cy="686.2" r="3.1"/>
<circle class="rf" cx="725.4" cy="686.2" r="3.1"/>
<circle class="rf" cx="729.4" cy="686.2" r="3.1"/>
<circle class="ro" cx="736.5" cy="686.2" r="3.1"/>
<circle class="ro" cx="740.6" cy="686.2" r="3.1"/>
<circle class="ro" cx="742.5" cy="686.2" r="3.1"/>
<circle class="rf" cx="747.5" cy="686.2" r="3.1"/>
<circle class="ro" cx="755.4" cy="686.2" r="3.1"/>
<circle class="ro" cx="757.2" cy="686.2" r="3.1"/>
<circle class="ro" cx="759.8" cy="686.2" r="3.1"/>
<circle class="rf" cx="766" cy="686.2" r="3.1"/>
<circle class="rf" cx="768.8" cy="686.2" r="3.1"/>
<circle class="rf" cx="773.1" cy="686.2" r="3.1"/>
<circle class="rf" cx="777" cy="686.2" r="3.1"/>
<circle class="rf" cx="779.4" cy="686.2" r="3.1"/>
<circle class="ro" cx="784.4" cy="686.2" r="3.1"/>
<circle class="ro" cx="787.5" cy="686.2" r="3.1"/>
<circle class="ro" cx="790" cy="686.2" r="3.1"/>
<circle class="rf" cx="792.5" cy="686.2" r="3.1"/>
<circle class="rf" cx="802.1" cy="686.2" r="3.1"/>
<circle class="ro" cx="811.5" cy="686.2" r="3.1"/>
<circle class="ro" cx="814.8" cy="686.2" r="3.1"/>
<circle class="rf" cx="832.5" cy="686.2" r="3.1"/>
<circle class="rf" cx="835" cy="686.2" r="3.1"/>
<circle class="ro" cx="844.4" cy="686.2" r="3.1"/>
<circle class="ro" cx="846.2" cy="686.2" r="3.1"/>
<circle class="rf" cx="853.8" cy="686.2" r="3.1"/>
<circle class="rf" cx="857.5" cy="686.2" r="3.1"/>
<circle class="ro" cx="868.8" cy="686.2" r="3.1"/>
<circle class="ro" cx="872.5" cy="686.2" r="3.1"/>
<circle class="ro" cx="875.9" cy="686.2" r="3.1"/>
<circle class="rf" cx="885" cy="686.2" r="3.1"/>
<circle class="rf" cx="891.9" cy="686.2" r="3.1"/>
<circle class="rf" cx="892.5" cy="686.2" r="3.1"/>
<circle class="ro" cx="896.9" cy="686.2" r="3.1"/>
<circle class="ro" cx="900" cy="686.2" r="3.1"/>
<circle class="rf" cx="908.1" cy="686.2" r="3.1"/>
<circle class="rf" cx="910" cy="686.2" r="3.1"/>
<circle class="rf" cx="911.9" cy="686.2" r="3.1"/>
<circle class="ro" cx="918.1" cy="686.2" r="3.1"/>
<circle class="ro" cx="919.4" cy="686.2" r="3.1"/>
<circle class="ro" cx="922.5" cy="686.2" r="3.1"/>
<circle class="rf" cx="928.1" cy="686.2" r="3.1"/>
<circle class="ro" cx="930" cy="686.2" r="3.1"/>
<circle class="rf" cx="931.9" cy="686.2" r="3.1"/>
<circle class="ro" cx="933.3" cy="686.2" r="3.1"/>
<circle class="rf" cx="935" cy="686.2" r="3.1"/>
<circle class="ro" cx="937.1" cy="686.2" r="3.1"/>
<circle class="rf" cx="939" cy="686.2" r="3.1"/>
<circle class="ro" cx="941.9" cy="686.2" r="3.1"/>
<circle class="rf" cx="952.2" cy="686.2" r="3.1"/>
<circle class="ro" cx="956.9" cy="686.2" r="3.1"/>
<circle class="rf" cx="960.4" cy="686.2" r="3.1"/>
<circle class="ro" cx="963.1" cy="686.2" r="3.1"/>
<circle class="rf" cx="966.9" cy="686.2" r="3.1"/>
<circle class="ro" cx="969.6" cy="686.2" r="3.1"/>
<circle class="rf" cx="971.2" cy="686.2" r="3.1"/>
<circle class="ro" cx="974.1" cy="686.2" r="3.1"/>
<circle class="rf" cx="977.5" cy="686.2" r="3.1"/>
<circle class="ro" cx="986.2" cy="686.2" r="3.1"/>
<circle class="ro" cx="992.5" cy="686.2" r="3.1"/>
<circle class="ro" cx="994.1" cy="686.2" r="3.1"/>
<circle class="rf" cx="1005.9" cy="686.2" r="3.1"/>
<circle class="rf" cx="1008.8" cy="686.2" r="3.1"/>
<circle class="rf" cx="1012.1" cy="686.2" r="3.1"/>
<circle class="rf" cx="1015" cy="686.2" r="3.1"/>
<circle class="ro" cx="1022.9" cy="686.2" r="3.1"/>
<circle class="ro" cx="1025.6" cy="686.2" r="3.1"/>
<circle class="rf" cx="1039" cy="686.2" r="3.1"/>
<circle class="rf" cx="1040.6" cy="686.2" r="3.1"/>
<circle class="rf" cx="1043.1" cy="686.2" r="3.1"/>
<circle class="ro" cx="1056" cy="686.2" r="3.1"/>
<circle class="ro" cx="1060" cy="686.2" r="3.1"/>
<circle class="ro" cx="1066" cy="686.2" r="3.1"/>
<circle class="rf" cx="1071.9" cy="686.2" r="3.1"/>
<circle class="rf" cx="1075.6" cy="686.2" r="3.1"/>
<circle class="ro" cx="1080" cy="686.2" r="3.1"/>
<circle class="ro" cx="1083.1" cy="686.2" r="3.1"/>
<circle class="rf" cx="1086.9" cy="686.2" r="3.1"/>
<circle class="rf" cx="1090" cy="686.2" r="3.1"/>
<circle class="ro" cx="1095.6" cy="686.2" r="3.1"/>
<circle class="ro" cx="1096.9" cy="686.2" r="3.1"/>
<circle class="ro" cx="1103.4" cy="686.2" r="3.1"/>
<circle class="rf" cx="1106.6" cy="686.2" r="3.1"/>
<circle class="ro" cx="1110" cy="686.2" r="3.1"/>
<circle class="rf" cx="1118.1" cy="686.2" r="3.1"/>
<circle class="rf" cx="1122.5" cy="686.2" r="3.1"/>
<circle class="rf" cx="1125.6" cy="686.2" r="3.1"/>
<circle class="ro" cx="1132.5" cy="686.2" r="3.1"/>
<circle class="ro" cx="1134.4" cy="686.2" r="3.1"/>
<circle class="ro" cx="1138.5" cy="686.2" r="3.1"/>
<circle class="rf" cx="1143.5" cy="686.2" r="3.1"/>
<circle class="rf" cx="1145.6" cy="686.2" r="3.1"/>
<circle class="rf" cx="1147.5" cy="686.2" r="3.1"/>
<circle class="ro" cx="1156.9" cy="686.2" r="3.1"/>
<circle class="ro" cx="1158.1" cy="686.2" r="3.1"/>
<circle class="rf" cx="1168.1" cy="686.2" r="3.1"/>
<circle class="rf" cx="1170.6" cy="686.2" r="3.1"/>
<circle class="rf" cx="1173.1" cy="686.2" r="3.1"/>
<circle class="ro" cx="1182.8" cy="686.2" r="3.1"/>
<circle class="rf" cx="1186.2" cy="686.2" r="3.1"/>
<circle class="rf" cx="1189.4" cy="686.2" r="3.1"/>
<circle class="rf" cx="1191.9" cy="686.2" r="3.1"/>
<circle class="ro" cx="1195" cy="686.2" r="3.1"/>
<circle class="ro" cx="1196.9" cy="686.2" r="3.1"/>
<circle class="rf" cx="1200" cy="686.2" r="3.1"/>
<circle class="ro" cx="1203.1" cy="686.2" r="3.1"/>
<circle class="rf" cx="1205.6" cy="686.2" r="3.1"/>
<g class="lab">
<text transform="translate(143.8 714.8) rotate(-90) scale(1 1.03)">G150</text>
<text transform="translate(153.5 658) rotate(-90) scale(1 1.03)">G135</text>
<text transform="translate(160 714.8) rotate(-90) scale(1 1.03)">G180</text>
<text transform="translate(170.6 658) rotate(-90) scale(1 1.03)">H2O2</text>
<text transform="translate(180.7 714.8) rotate(-90) scale(1 1.03)">Paraq</text>
<text transform="translate(187.5 658) rotate(-90) scale(1 1.03)">Oxctl</text>
<text transform="translate(198.8 714.8) rotate(-90) scale(1 1.03)">LBGexp</text>
<text transform="translate(211.5 658) rotate(-90) scale(1 1.03)">dia15</text>
<text transform="translate(226.3 714.8) rotate(-90) scale(1 1.03)">Diami</text>
<text transform="translate(238.1 658) rotate(-90) scale(1 1.03)">dia5</text>
<text transform="translate(255 714.8) rotate(-90) scale(1 1.03)">C90</text>
<text transform="translate(268 658) rotate(-90) scale(1 1.03)">C30</text>
<text transform="translate(282.1 714.8) rotate(-90) scale(1 1.03)">Cold</text>
<text transform="translate(296.2 658) rotate(-90) scale(1 1.03)">LPh</text>
<text transform="translate(304.4 714.8) rotate(-90) scale(1 1.03)">HPh</text>
<text transform="translate(315 658) rotate(-90) scale(1 1.03)">aero</text>
<text transform="translate(332.5 714.8) rotate(-90) scale(1 1.03)">nit</text>
<text transform="translate(343.8 658) rotate(-90) scale(1 1.03)">ferm</text>
<text transform="translate(360.9 714.8) rotate(-90) scale(1 1.03)">GM+150</text>
<text transform="translate(366.2 658) rotate(-90) scale(1 1.03)">M9−tran</text>
<text transform="translate(375.6 714.8) rotate(-90) scale(1 1.03)">MG+150</text>
<text transform="translate(382.5 658) rotate(-90) scale(1 1.03)">MG+120</text>
<text transform="translate(391.2 714.8) rotate(-90) scale(1 1.03)">MG+90</text>
<text transform="translate(395 658) rotate(-90) scale(1 1.03)">MG+60</text>
<text transform="translate(397.5 714.8) rotate(-90) scale(1 1.03)">MG+45</text>
<text transform="translate(400 658) rotate(-90) scale(1 1.03)">MG+60</text>
<text transform="translate(401.9 714.8) rotate(-90) scale(1 1.03)">MG+25</text>
<text transform="translate(404.2 658) rotate(-90) scale(1 1.03)">MG+25</text>
<text transform="translate(406.4 714.8) rotate(-90) scale(1 1.03)">MG+15</text>
<text transform="translate(408 658) rotate(-90) scale(1 1.03)">MG+15</text>
<text transform="translate(411.5 714.8) rotate(-90) scale(1 1.03)">MG+10</text>
<text transform="translate(415.5 658) rotate(-90) scale(1 1.03)">MG+10</text>
<text transform="translate(417.6 714.8) rotate(-90) scale(1 1.03)">MG+5</text>
<text transform="translate(419.3 658) rotate(-90) scale(1 1.03)">MG+t5</text>
<text transform="translate(422.3 714.8) rotate(-90) scale(1 1.03)">MG+t5</text>
<text transform="translate(425.1 658) rotate(-90) scale(1 1.03)">MG+5</text>
<text transform="translate(428 714.8) rotate(-90) scale(1 1.03)">MG+t4</text>
<text transform="translate(430.9 658) rotate(-90) scale(1 1.03)">MG+t3</text>
<text transform="translate(432.3 714.8) rotate(-90) scale(1 1.03)">MG+t2</text>
<text transform="translate(434.3 658) rotate(-90) scale(1 1.03)">MG+t1</text>
<text transform="translate(438.8 714.8) rotate(-90) scale(1 1.03)">MG−0.1</text>
<text transform="translate(441.5 658) rotate(-90) scale(1 1.03)">MG−0.2</text>
<text transform="translate(444.6 658) rotate(-90) scale(1 1.03)">MG−0.2</text>
<text transform="translate(451 714.8) rotate(-90) scale(1 1.03)">UNK1</text>
<text transform="translate(453.5 658) rotate(-90) scale(1 1.03)">Fru</text>
<text transform="translate(459.4 714.8) rotate(-90) scale(1 1.03)">Glucon</text>
<text transform="translate(463.8 658) rotate(-90) scale(1 1.03)">GM−0.2</text>
<text transform="translate(466.2 714.8) rotate(-90) scale(1 1.03)">GM−0.1</text>
<text transform="translate(472.2 658) rotate(-90) scale(1 1.03)">GM−0.2</text>
<text transform="translate(473.8 714.8) rotate(-90) scale(1 1.03)">GM+5</text>
<text transform="translate(477.5 658) rotate(-90) scale(1 1.03)">GM+5</text>
<text transform="translate(482.5 714.8) rotate(-90) scale(1 1.03)">GM+10</text>
<text transform="translate(485.6 658) rotate(-90) scale(1 1.03)">GM+10</text>
<text transform="translate(488.8 714.8) rotate(-90) scale(1 1.03)">GM+15</text>
<text transform="translate(490 658) rotate(-90) scale(1 1.03)">GM+15</text>
<text transform="translate(493.8 714.8) rotate(-90) scale(1 1.03)">GM+25</text>
<text transform="translate(495.9 658) rotate(-90) scale(1 1.03)">GM+25</text>
<text transform="translate(499 658) rotate(-90) scale(1 1.03)">GM+45</text>
<text transform="translate(503.1 714.8) rotate(-90) scale(1 1.03)">GM+45</text>
<text transform="translate(507.5 658) rotate(-90) scale(1 1.03)">GM+60</text>
<text transform="translate(508.8 714.8) rotate(-90) scale(1 1.03)">GM+120</text>
<text transform="translate(513.1 658) rotate(-90) scale(1 1.03)">GM+150</text>
<text transform="translate(520 714.8) rotate(-90) scale(1 1.03)">GM+90</text>
<text transform="translate(522.7 658) rotate(-90) scale(1 1.03)">GM+60</text>
<text transform="translate(525 714.8) rotate(-90) scale(1 1.03)">GM+45</text>
<text transform="translate(528.1 658) rotate(-90) scale(1 1.03)">GM+25</text>
<text transform="translate(532.5 714.8) rotate(-90) scale(1 1.03)">GM+5</text>
<text transform="translate(540 658) rotate(-90) scale(1 1.03)">M9−exp</text>
<text transform="translate(548.1 714.8) rotate(-90) scale(1 1.03)">M/G</text>
<text transform="translate(562.2 658) rotate(-90) scale(1 1.03)">Mal</text>
<text transform="translate(574.4 714.8) rotate(-90) scale(1 1.03)">Fru</text>
<text transform="translate(580.6 658) rotate(-90) scale(1 1.03)">Glu</text>
<text transform="translate(590 714.8) rotate(-90) scale(1 1.03)">SMM</text>
<text transform="translate(598.8 658) rotate(-90) scale(1 1.03)">BMM</text>
<text transform="translate(609 714.8) rotate(-90) scale(1 1.03)">Heat</text>
<text transform="translate(624.8 658) rotate(-90) scale(1 1.03)">Etha</text>
<text transform="translate(640 714.8) rotate(-90) scale(1 1.03)">Salt</text>
<text transform="translate(653.1 658) rotate(-90) scale(1 1.03)">Gly</text>
<text transform="translate(668.1 714.8) rotate(-90) scale(1 1.03)">HiTm</text>
<text transform="translate(686.9 658) rotate(-90) scale(1 1.03)">HiOs</text>
<text transform="translate(700.6 714.8) rotate(-90) scale(1 1.03)">S1</text>
<text transform="translate(712.5 658) rotate(-90) scale(1 1.03)">S2</text>
<text transform="translate(730.4 714.8) rotate(-90) scale(1 1.03)">S3</text>
<text transform="translate(741.5 658) rotate(-90) scale(1 1.03)">S4</text>
<text transform="translate(752.5 714.8) rotate(-90) scale(1 1.03)">S3</text>
<text transform="translate(760.4 658) rotate(-90) scale(1 1.03)">S5</text>
<text transform="translate(771 714.8) rotate(-90) scale(1 1.03)">S6</text>
<text transform="translate(789.4 658) rotate(-90) scale(1 1.03)">S7</text>
<text transform="translate(797.5 714.8) rotate(-90) scale(1 1.03)">S8</text>
<text transform="translate(816.5 658) rotate(-90) scale(1 1.03)">S6</text>
<text transform="translate(837.5 714.8) rotate(-90) scale(1 1.03)">BT</text>
<text transform="translate(849.4 658) rotate(-90) scale(1 1.03)">B36</text>
<text transform="translate(858.8 714.8) rotate(-90) scale(1 1.03)">B60</text>
<text transform="translate(873.8 658) rotate(-90) scale(1 1.03)">LoTm</text>
<text transform="translate(890 714.8) rotate(-90) scale(1 1.03)">Pyr</text>
<text transform="translate(901.9 658) rotate(-90) scale(1 1.03)">G/S</text>
<text transform="translate(913.1 714.8) rotate(-90) scale(1 1.03)">Glucon</text>
<text transform="translate(923.1 658) rotate(-90) scale(1 1.03)">SMMPr</text>
<text transform="translate(933.1 714.8) rotate(-90) scale(1 1.03)">T−5.40H</text>
<text transform="translate(935 658) rotate(-90) scale(1 1.03)">T−4.40H</text>
<text transform="translate(936.9 714.8) rotate(-90) scale(1 1.03)">T−3.40H</text>
<text transform="translate(938.3 658) rotate(-90) scale(1 1.03)">T−2.40H</text>
<text transform="translate(940 714.8) rotate(-90) scale(1 1.03)">T−1.40H</text>
<text transform="translate(942.1 658) rotate(-90) scale(1 1.03)">T−1.10H</text>
<text transform="translate(944 714.8) rotate(-90) scale(1 1.03)">T−0.40H</text>
<text transform="translate(946.9 658) rotate(-90) scale(1 1.03)">T0.0H</text>
<text transform="translate(957.2 714.8) rotate(-90) scale(1 1.03)">T0.30H</text>
<text transform="translate(961.9 658) rotate(-90) scale(1 1.03)">T1.0H</text>
<text transform="translate(965.4 714.8) rotate(-90) scale(1 1.03)">T1.30H</text>
<text transform="translate(968.1 658) rotate(-90) scale(1 1.03)">T2.0H</text>
<text transform="translate(971.9 714.8) rotate(-90) scale(1 1.03)">T2.30H</text>
<text transform="translate(974.6 658) rotate(-90) scale(1 1.03)">T3.0H</text>
<text transform="translate(976.2 714.8) rotate(-90) scale(1 1.03)">T3.30H</text>
<text transform="translate(979.1 658) rotate(-90) scale(1 1.03)">T4.0H</text>
<text transform="translate(982.5 714.8) rotate(-90) scale(1 1.03)">T5.0H</text>
<text transform="translate(991.2 658) rotate(-90) scale(1 1.03)">M9−stat</text>
<text transform="translate(1010.9 714.8) rotate(-90) scale(1 1.03)">BC</text>
<text transform="translate(1027.9 658) rotate(-90) scale(1 1.03)">Sw</text>
<text transform="translate(1044 714.8) rotate(-90) scale(1 1.03)">LPhT</text>
<text transform="translate(1061 658) rotate(-90) scale(1 1.03)">LBGstat</text>
<text transform="translate(1076.9 714.8) rotate(-90) scale(1 1.03)">LBGtran</text>
<text transform="translate(1085 658) rotate(-90) scale(1 1.03)">M0t45</text>
<text transform="translate(1091.9 714.8) rotate(-90) scale(1 1.03)">M40t45</text>
<text transform="translate(1100.6 658) rotate(-90) scale(1 1.03)">Lbtran</text>
<text transform="translate(1111.6 714.8) rotate(-90) scale(1 1.03)">Mt0</text>
<text transform="translate(1115 658) rotate(-90) scale(1 1.03)">M40t45</text>
<text transform="translate(1123.1 714.8) rotate(-90) scale(1 1.03)">M40t90</text>
<text transform="translate(1137.5 658) rotate(-90) scale(1 1.03)">M0t90</text>
<text transform="translate(1148.5 714.8) rotate(-90) scale(1 1.03)">Lbstat</text>
<text transform="translate(1161.9 658) rotate(-90) scale(1 1.03)">BI</text>
<text transform="translate(1173.1 714.8) rotate(-90) scale(1 1.03)">S0</text>
<text transform="translate(1187.8 658) rotate(-90) scale(1 1.03)">M0t45</text>
<text transform="translate(1191.2 714.8) rotate(-90) scale(1 1.03)">dia0</text>
<text transform="translate(1200 658) rotate(-90) scale(1 1.03)">Lbexp</text>
<text transform="translate(1205 714.8) rotate(-90) scale(1 1.03)">Mt0</text>
<text transform="translate(1208.1 658) rotate(-90) scale(1 1.03)">Lbexp</text>
<text transform="translate(1210.6 714.8) rotate(-90) scale(1 1.03)">Mt0</text>
</g>
</svg></body></html>
